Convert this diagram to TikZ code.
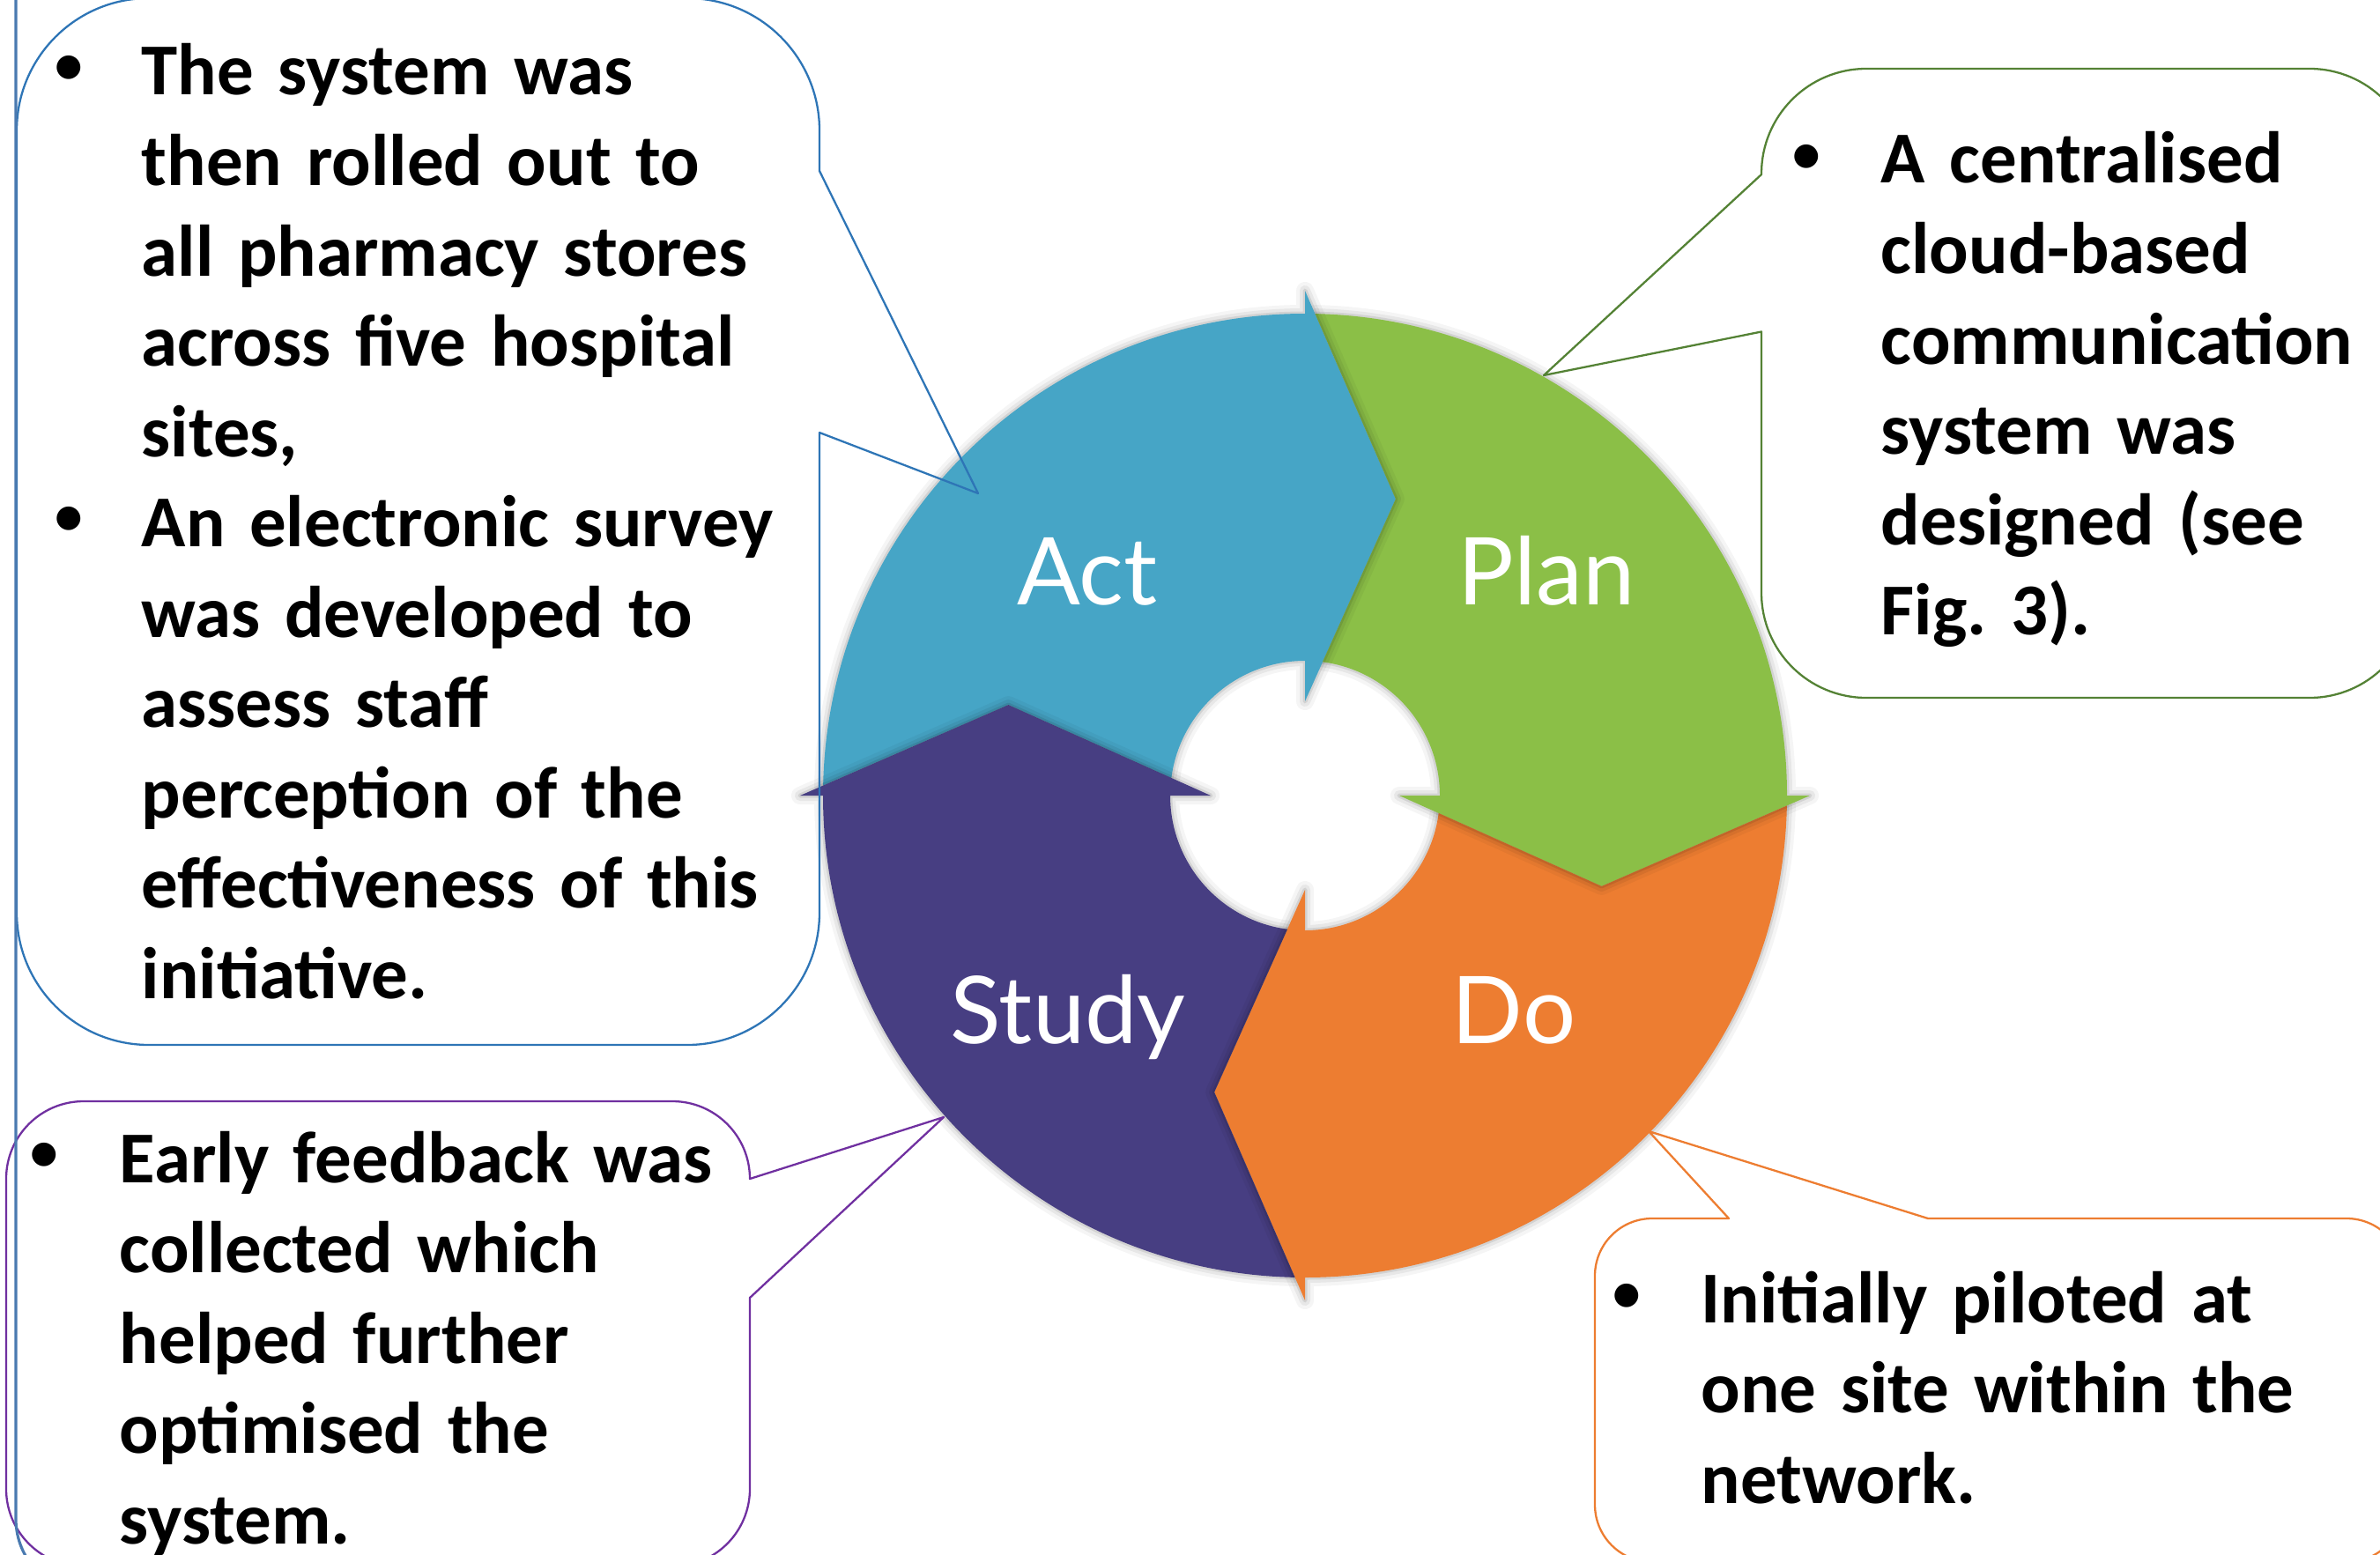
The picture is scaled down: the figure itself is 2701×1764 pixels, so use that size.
\documentclass[tikz,border=0pt]{standalone}
\usepackage{fontspec}
\setmainfont{Carlito}
\newfontfamily\lblfont{Lato}
\frenchspacing
\definecolor{actc}{RGB}{70,165,198}
\definecolor{planc}{RGB}{139,191,71}
\definecolor{doc}{RGB}{237,125,49}
\definecolor{studyc}{RGB}{71,62,130}
\definecolor{cone}{RGB}{46,117,182}
\definecolor{ctwo}{RGB}{84,130,53}
\definecolor{cthree}{RGB}{112,48,160}
\definecolor{cfour}{RGB}{237,125,49}
\definecolor{framec}{RGB}{74,122,176}
\newcommand\bodyfont{\fontsize{23.6pt}{29.16pt}\selectfont\bfseries\frenchspacing}
\newcommand\bulfont{\fontsize{18pt}{20pt}\selectfont\bfseries}
\newcommand\labelfont{\lblfont\fontsize{30.2pt}{36pt}\selectfont}
\newcommand\segp[1]{(#1-1.2:547) arc[start angle={#1-1.2}, end angle={#1-90}, radius=547] -- (#1-90:573) -- (#1-107:352) -- (#1-90:107) -- (#1-90:153) arc[start angle={#1-90}, end angle={#1-7.5}, radius=153] -- (#1-17:352) -- cycle}
\newcommand\shadowseg[1]{\foreach \w/\o in {20/0.04,12/0.06,5/0.09}{\draw[black, opacity=\o, line width=\w*0.2845pt, line join=round] \segp{#1};}}
\tikzset{
 callout/.style={line width=0.65pt, line join=round},
 txt/.style={anchor=base west, inner sep=0pt, text width=9cm, align=left, font=\bodyfont},
 bul/.style={anchor=center, inner sep=0pt, font=\bulfont},
 lbl/.style={anchor=base, inner sep=0pt, text=white, font=\labelfont},
}
\begin{document}
\begin{tikzpicture}[x=0.01cm, y=0.01cm]
\useasboundingbox (0,0) rectangle (2701,-1764);
\clip (0,0) rectangle (2701,-1764);
% ---- PDCA ring ----
\begin{scope}[shift={(1481,-903)}]
  \shadowseg{180}\shadowseg{90}\shadowseg{0}\shadowseg{-90}
  \fill[actc] \segp{180};
  \fill[planc] \segp{90};
  \fill[doc] \segp{0};
  \fill[studyc] \segp{-90};
  \begin{scope}\clip \segp{90}; \shadowseg{180}\end{scope}
  \begin{scope}\clip \segp{0}; \shadowseg{90}\end{scope}
  \begin{scope}\clip \segp{-90}; \shadowseg{0}\end{scope}
  \begin{scope}\clip \segp{180}; \shadowseg{-90}\end{scope}
\end{scope}
\node[lbl] (act) at (1234,-686) {Act};
\node[lbl] (plan) at (1755,-686) {Plan};
\node[lbl] (study) at (1212,-1184) {Study};
\node[lbl] (do) at (1718,-1184) {Do};
% ---- callouts ----
\draw[callout, cone] (169,2) -- (780,2) arc[start angle=90, end angle=0, radius=150]
  -- (930,-194) -- (1110,-560) -- (930,-491) -- (930,-1036)
  arc[start angle=0, end angle=-90, radius=150] -- (169,-1186)
  arc[start angle=270, end angle=180, radius=150] -- (19,-148)
  arc[start angle=180, end angle=90, radius=150] -- cycle;
\draw[callout, ctwo] (2118,-78) -- (2621,-78) arc[start angle=90, end angle=0, radius=119]
  -- (2740,-673) arc[start angle=0, end angle=-90, radius=119] -- (2118,-792)
  arc[start angle=270, end angle=180, radius=119] -- (1999,-376.5) -- (1752,-426)
  -- (1999,-198) -- (1999,-197) arc[start angle=180, end angle=90, radius=119] -- cycle;
\draw[callout, cthree] (95,-1250) -- (763,-1250) arc[start angle=90, end angle=0, radius=88]
  -- (1071,-1268) -- (851,-1473) -- (851,-1690)
  arc[start angle=0, end angle=-90, radius=88] -- (95,-1778)
  arc[start angle=270, end angle=180, radius=88] -- (7,-1338)
  arc[start angle=180, end angle=90, radius=88] -- cycle;
\draw[callout, cfour] (1875,-1383) -- (1962,-1383) -- (1871,-1284) -- (2188,-1383)
  -- (2663,-1383) arc[start angle=90, end angle=0, radius=65] -- (2728,-1708)
  arc[start angle=0, end angle=-90, radius=65] -- (1875,-1773)
  arc[start angle=270, end angle=180, radius=65] -- (1810,-1448)
  arc[start angle=180, end angle=90, radius=65] -- cycle;
\draw[framec, line width=0.9pt] (18,10) -- (18,-1724) arc[start angle=180, end angle=270, radius=85];
% ---- texts ----
\node[bul] (b1) at (78,-79) {•};
\node[bul] (b2) at (78,-591) {•};
\node[txt] (t1) at (160,-108) {The system was\\then rolled out to\\all pharmacy stores\\across five hospital\\sites,\\An electronic survey\\was developed to\\assess staff\\perception of the\\effectiveness of this\\initiative.};
\node[bul] (b3) at (2050,-180) {•};
\node[txt] (t2) at (2134,-208) {A centralised\\cloud-based\\communication\\system was\\designed (see\\Fig. 3).};
\node[bul] (b4) at (50,-1313) {•};
\node[txt] (t3) at (135,-1342) {Early feedback was\\collected which\\helped further\\optimised the\\system.};
\node[bul] (b5) at (1846,-1473) {•};
\node[txt] (t4) at (1930,-1501) {Initially piloted at\\one site within the\\network.};
\end{tikzpicture}
\end{document}
